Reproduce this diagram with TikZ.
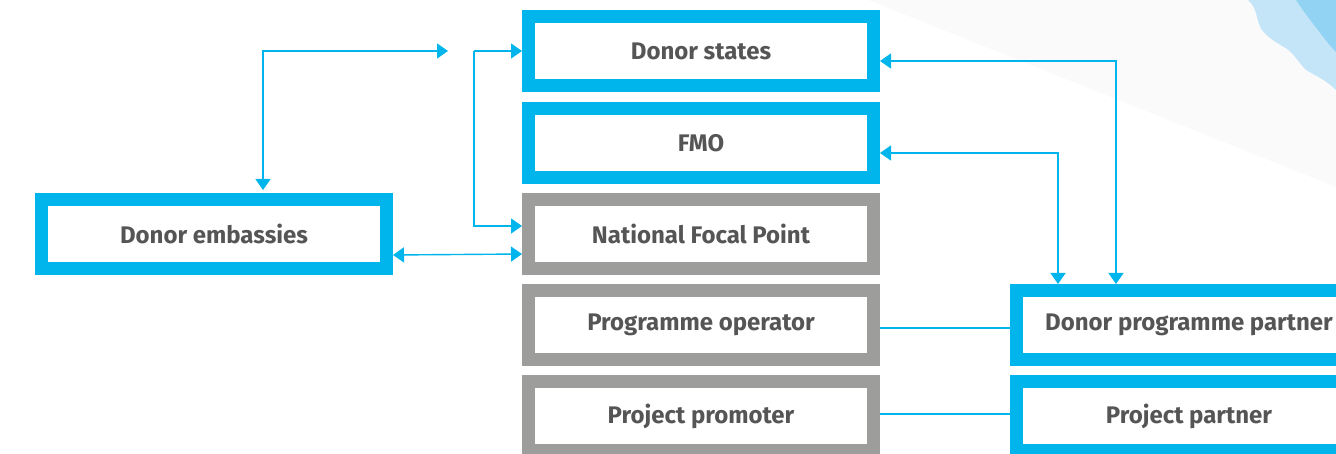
\documentclass[tikz,border=0pt]{standalone}
\usepackage{fontspec}
\setmainfont{Fira Sans}
\usetikzlibrary{arrows.meta}
\definecolor{eeablue}{HTML}{00B5EC}
\definecolor{eeagray}{HTML}{9D9D9B}
\definecolor{txtgray}{HTML}{555555}
\definecolor{cloudA}{HTML}{C4E5F8}
\definecolor{cloudB}{HTML}{92D2F3}
\definecolor{bandgray}{HTML}{FAFAFA}
\tikzset{
  box/.style={draw, line width=13pt, fill=white, minimum width=345pt, minimum height=69pt,
    inner sep=0pt, font=\bfseries\fontsize{24}{28}\selectfont, text=txtgray},
  bluebox/.style={box, draw=eeablue},
  graybox/.style={box, draw=eeagray},
  conn/.style={draw=eeablue, line width=1.4pt},
  arr/.style={conn, -{Triangle[length=11pt,width=15pt]}},
  darr/.style={conn, {Triangle[length=11pt,width=15pt]}-{Triangle[length=11pt,width=15pt]}},
}
\begin{document}
\begin{tikzpicture}[x=1pt,y=-1pt]
\useasboundingbox (0,0) rectangle (1336,454);
\begin{scope}
\clip (0,0) rectangle (1336,454);
% background band and cloud
\fill[bandgray] (868,0) -- (1336,0) -- (1336,187) -- cycle;
\fill[cloudA] (1248,0) .. controls (1258,8) and (1256,22) .. (1262,30)
  .. controls (1268,38) and (1276,42) .. (1282,46)
  .. controls (1292,50) and (1298,62) .. (1306,70)
  .. controls (1316,76) and (1326,80) .. (1336,90) -- (1336,0) -- cycle;
\fill[cloudB] (1296,0) .. controls (1304,12) and (1310,20) .. (1318,30)
  .. controls (1324,38) and (1330,46) .. (1336,52) -- (1336,0) -- cycle;

% nodes
\node[bluebox] (ds) at (701,51) {Donor states};
\node[bluebox] (fmo) at (701,143) {FMO};
\node[graybox] (nfp) at (701,234) {National Focal Point};
\node[graybox] (po) at (701,325) {Programme operator};
\node[graybox] (pp) at (701,416) {Project promoter};
\node[bluebox] (de) at (214,234) {Donor embassies};
\node[bluebox] (dpp) at (1189,325) {Donor programme partner};
\node[bluebox] (ppart) at (1189,416) {Project partner};

% connector coordinates
\coordinate (free) at (448,51);
\coordinate (brk) at (474,51);

% connectors
\draw[darr, shorten >=3pt] (free) -| ([xshift=49pt]de.north);
\draw[arr] (brk) -- (ds.west);
\draw[arr] (brk) |- ([yshift=8pt]nfp.west);
\draw[darr] ([yshift=-21pt]de.east) -- ([yshift=-20pt]nfp.west);
\draw[darr] ([yshift=-10pt]ds.east) -| ([xshift=-73pt]dpp.north);
\draw[darr] ([yshift=-10pt]fmo.east) -| ([xshift=-131pt]dpp.north);
\draw[conn] ([yshift=-3pt]po.east) -- ([yshift=-3pt]dpp.west);
\draw[conn] ([yshift=2pt]pp.east) -- ([yshift=2pt]ppart.west);
\end{scope}
\end{tikzpicture}
\end{document}
